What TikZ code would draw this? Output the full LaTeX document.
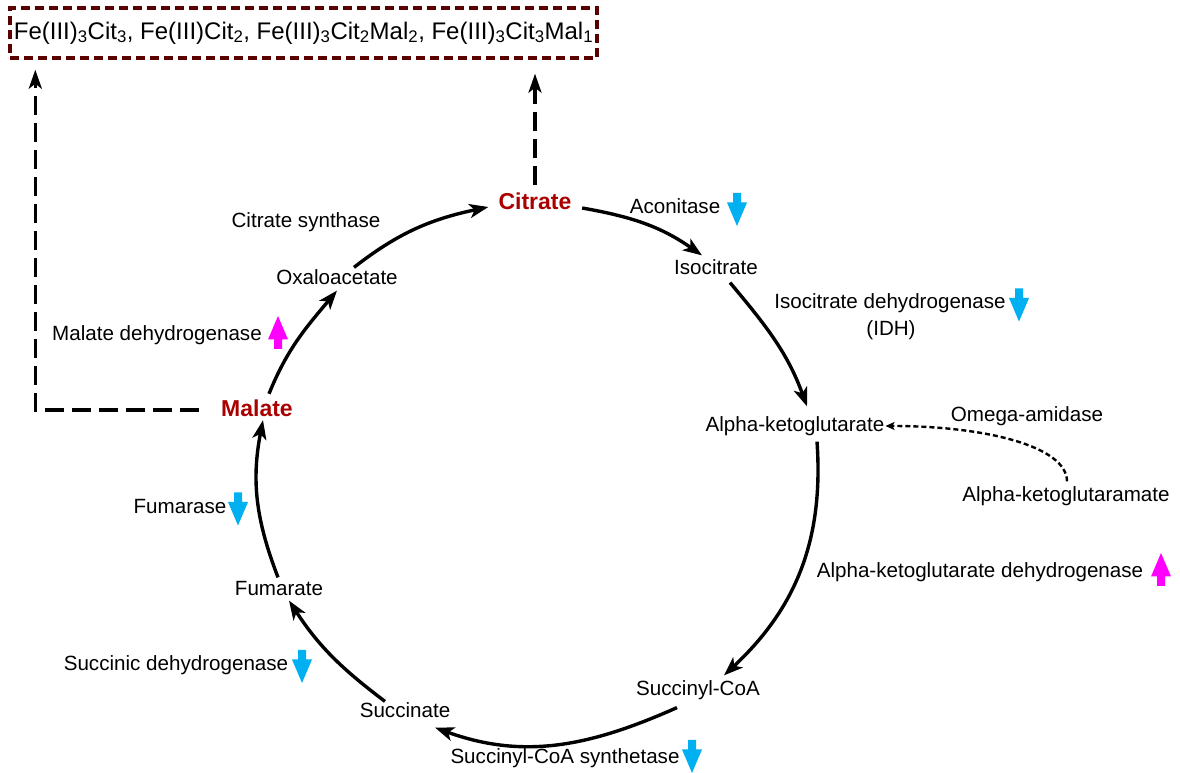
\documentclass[tikz,border=0pt]{standalone}
\usepackage{fontspec}
\setmainfont{Liberation Sans}
\usetikzlibrary{arrows.meta}
\definecolor{citred}{RGB}{170,0,0}
\definecolor{boxred}{RGB}{90,0,0}
\definecolor{downblue}{RGB}{0,176,240}
\definecolor{upmag}{RGB}{255,0,255}
\begin{document}
\begin{tikzpicture}[x=1pt,y=1pt,
  lbl/.style={font=\fontsize{20.6}{24}\selectfont, inner sep=2pt, text height=14.8pt, text depth=4pt},
  keym/.style={font=\fontsize{23}{27}\selectfont\bfseries, text=citred, inner sep=2pt, text height=17pt, text depth=4pt},
  cyc/.style={line width=3.4pt, -{Stealth[length=19pt,width=14pt,inset=5pt]}},
  export/.style={line width=3.4pt, dash pattern=on 19pt off 8pt, -{Stealth[length=19pt,width=13pt,inset=5pt]}},
  amid/.style={line width=2.4pt, dash pattern=on 5pt off 3pt, -{Stealth[length=9pt,width=8pt,inset=2pt]}},
  downarr/.pic={\fill[downblue] (-4,16.5) -- (4,16.5) -- (4,7) -- (10,7) -- (0,-16.5) -- (-10,7) -- (-4,7) -- cycle;},
  uparr/.pic={\fill[upmag] (-4,-16.5) -- (4,-16.5) -- (4,-7) -- (10,-7) -- (0,16.5) -- (-10,-7) -- (-4,-7) -- cycle;},
]
\useasboundingbox (0,0) rectangle (1180,773);

% product box
\node[draw=boxred, line width=3.4pt, dash pattern=on 9pt off 5pt, minimum width=587pt, minimum height=50pt,
      font=\fontsize{24}{28}\selectfont, inner sep=0pt] (box) at (303.5,740)
  {Fe(III)\textsubscript{3}Cit\textsubscript{3}, Fe(III)Cit\textsubscript{2}, Fe(III)\textsubscript{3}Cit\textsubscript{2}Mal\textsubscript{2}, Fe(III)\textsubscript{3}Cit\textsubscript{3}Mal\textsubscript{1}};

% metabolites
\node[keym] (cit) at (535,570) {Citrate};
\node[keym] (mal) at (257,363) {Malate};
\node[lbl] (oxa) at (337,494) {Oxaloacetate};
\node[lbl] (iso) at (716,504) {Isocitrate};
\node[lbl] (akg) at (795,347) {Alpha-ketoglutarate};
\node[lbl] (akgm) at (1066,277) {Alpha-ketoglutaramate};
\node[lbl] (fum) at (279,183) {Fumarate};
\node[lbl] (succoa) at (698,83) {Succinyl-CoA};
\node[lbl] (succ) at (405,61) {Succinate};

% enzymes
\node[lbl] (cs) at (306,551) {Citrate synthase};
\node[lbl] (acon) at (675,565) {Aconitase};
\node[lbl] (idh1) at (890,470) {Isocitrate dehydrogenase};
\node[lbl] (idh2) at (891,443) {(IDH)};
\node[lbl] (mdh) at (157,438) {Malate dehydrogenase};
\node[lbl] (omega) at (1027,357) {Omega-amidase};
\node[lbl] (fumase) at (180,265) {Fumarase};
\node[lbl] (akgdh) at (980,201) {Alpha-ketoglutarate dehydrogenase};
\node[lbl] (sdh) at (176,108) {Succinic dehydrogenase};
\node[lbl] (scs) at (565,15) {Succinyl-CoA synthetase};

% regulation arrows
\pic at (737,563.5) {downarr};
\pic at (1019,468) {downarr};
\pic at (278,440.5) {uparr};
\pic at (238,264) {downarr};
\pic at (1161,203.5) {uparr};
\pic at (302,106.5) {downarr};
\pic at (692,16.5) {downarr};

% cycle
\draw[cyc] ([shift={(12,3.5)}]mal.north) to[out=68,in=230] (oxa.south);
\draw[cyc] ([shift={(17,0)}]oxa.north) to[out=38,in=192] ([shift={(-8,-4)}]cit.west);
\draw[cyc] ([shift={(8.5,-5)}]cit.east) to[out=-10,in=145] ([shift={(-14,2)}]iso.north);
\draw[cyc] ([shift={(14,-2)}]iso.south) to[out=-50,in=110] ([shift={(12,8)}]akg.north);
\draw[cyc] ([shift={(22,-4)}]akg.south) to[out=-86,in=43] ([shift={(26,3)}]succoa.north);
\draw[cyc] ([shift={(-21,-6)}]succoa.south) to[out=-156,in=-20] ([shift={(30,-4)}]succ.south);
\draw[cyc] ([shift={(-20,-1)}]succ.north) to[out=143,in=-57] ([shift={(10,1)}]fum.south);
\draw[cyc] ([shift={(-1,1)}]fum.north) to[out=111,in=-101] ([shift={(6,2.5)}]mal.south);

% omega-amidase
\draw[amid] ([shift={(1,3)}]akgm.north) .. controls +(0,35) and +(100,0) .. ([xshift=-1pt]akg.east);

% export to complexes
\draw[export, shorten <=5pt, shorten >=14pt] (cit.north) -- (cit.north |- box.south);
\draw[export, shorten <=20pt, shorten >=10pt] (mal.west) -| ([xshift=27pt]box.south west);
\end{tikzpicture}
\end{document}
